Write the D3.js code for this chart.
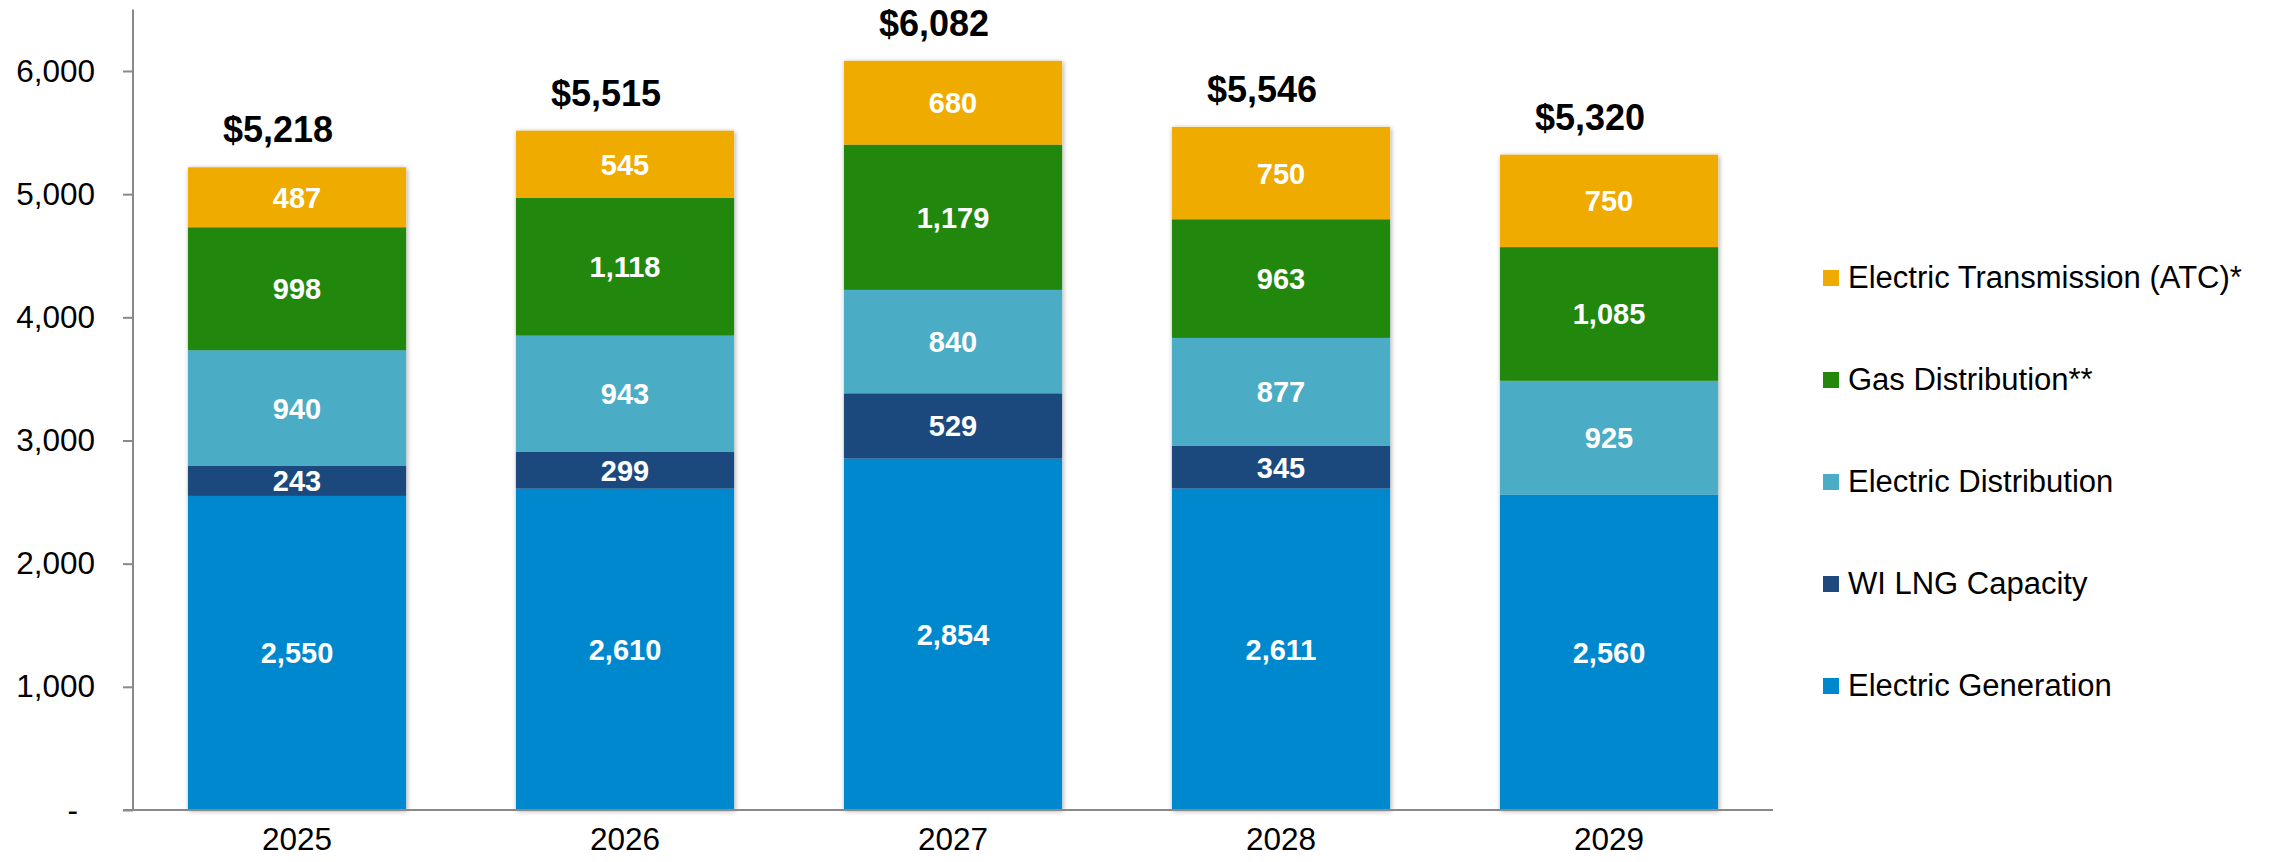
<!DOCTYPE html>
<html>
<head>
<meta charset="utf-8">
<script src="https://cdn.jsdelivr.net/npm/d3@7"></script>
<style>
  body { margin: 0; background: #fff; }
  svg text { font-family: "Liberation Sans", Arial, sans-serif; }
</style>
</head>
<body>
<div id="chart"></div>
<script>
// chart values
var years = ["2025", "2026", "2027", "2028", "2029"];
var electricGeneration = [2550, 2610, 2854, 2611, 2560];
var wiLngCapacity = [243, 299, 529, 345, 0];
var electricDistribution = [940, 943, 840, 877, 925];
var gasDistribution = [998, 1118, 1179, 963, 1085];
var electricTransmission = [487, 545, 680, 750, 750];
var seriesNames = ["Electric Generation", "WI LNG Capacity", "Electric Distribution", "Gas Distribution**", "Electric Transmission (ATC)*"];
var yTicks = [0, 1000, 2000, 3000, 4000, 5000, 6000];

var colors = ["#0088ce", "#1f497d", "#4bacc6", "#23870c", "#f0ab00"];
var seriesValues = [electricGeneration, wiLngCapacity, electricDistribution, gasDistribution, electricTransmission];

// build rows for the stack
var rows = years.map(function(y, i){
  var row = {year: y};
  seriesNames.forEach(function(name, j){ row[name] = seriesValues[j][i]; });
  return row;
});
var stacked = d3.stack().keys(seriesNames)(rows);

var width = 2285, height = 862;
var svg = d3.select("#chart").append("svg")
    .attr("width", width)
    .attr("height", height);

var defs = svg.append("defs");
var f = defs.append("filter").attr("id", "shadow")
    .attr("x", "-10%").attr("y", "-10%").attr("width", "120%").attr("height", "120%");
f.append("feDropShadow")
    .attr("dx", 1).attr("dy", 1)
    .attr("stdDeviation", 2.5)
    .attr("flood-color", "#000")
    .attr("flood-opacity", 0.35);

var x = d3.scaleBand()
    .domain(years)
    .range([133, 1773])
    .paddingInner(0.335)
    .paddingOuter(0.1675);

var y = d3.scaleLinear()
    .domain([0, 6500])
    .range([810, 9.4]);

// bars, one group per year so the shadow sits on the outside of the column
var cols = svg.selectAll("g.col")
  .data(years)
  .enter().append("g")
    .attr("class", "col")
    .attr("filter", "url(#shadow)");

cols.each(function(yr, i){
  d3.select(this).selectAll("rect")
    .data(stacked.filter(function(s){ return s[i][1] > s[i][0]; }))
    .enter().append("rect")
      .attr("x", x(yr))
      .attr("width", x.bandwidth())
      .attr("y", function(s){ return y(s[i][1]); })
      .attr("height", function(s){ return y(s[i][0]) - y(s[i][1]); })
      .attr("fill", function(s){ return colors[s.index]; });
});

// segment labels
var fmt = d3.format(",");
stacked.forEach(function(s){
  svg.append("g").selectAll("text")
    .data(s.filter(function(d){ return d[1] - d[0] > 0; }))
    .enter().append("text")
      .attr("x", function(d){ return x(d.data.year) + x.bandwidth() / 2; })
      .attr("y", function(d){ return (y(d[0]) + y(d[1])) / 2; })
      .attr("dy", "0.36em")
      .attr("text-anchor", "middle")
      .attr("fill", "#fff")
      .attr("font-weight", "bold")
      .attr("font-size", "29px")
      .text(function(d){ return fmt(d[1] - d[0]); });
});

// totals above bars
var topSeries = stacked[stacked.length - 1];
svg.append("g").selectAll("text")
  .data(topSeries)
  .enter().append("text")
    .attr("x", function(d){ return x(d.data.year) + x.bandwidth() / 2 - 19; })
    .attr("y", function(d){ return y(d[1]) - 25; })
    .attr("text-anchor", "middle")
    .attr("font-weight", "bold")
    .attr("font-size", "36px")
    .attr("fill", "#000")
    .text(function(d){ return "$" + fmt(d[1]); });

// y axis
var yAxis = d3.axisLeft(y)
    .tickValues(yTicks)
    .tickSize(10)
    .tickPadding(28)
    .tickFormat(function(d){ return d === 0 ? "-" : fmt(d); });

var gy = svg.append("g")
    .attr("transform", "translate(133,0)")
    .call(yAxis);
gy.select(".domain").remove();
gy.selectAll(".tick line").attr("stroke", "#898989").attr("stroke-width", 2);
gy.selectAll(".tick text")
    .attr("font-size", "31.5px")
    .attr("fill", "#000")
    .attr("font-family", null)
    .attr("x", function(d){ return d === 0 ? -55 : -38; });

svg.append("line")
    .attr("x1", 133).attr("x2", 133)
    .attr("y1", y(6500)).attr("y2", y(0))
    .attr("stroke", "#898989").attr("stroke-width", 2);

// x axis
var gx = svg.append("g")
    .attr("transform", "translate(0,810)")
    .call(d3.axisBottom(x).tickSize(0).tickPadding(18));
gx.select(".domain").remove();
gx.selectAll(".tick text")
    .attr("font-size", "31.5px")
    .attr("fill", "#000")
    .attr("font-family", null);

svg.append("line")
    .attr("x1", 123).attr("x2", 1773)
    .attr("y1", y(0)).attr("y2", y(0))
    .attr("stroke", "#898989").attr("stroke-width", 2);

// legend (top to bottom is reverse of stack order)
var legendOrder = seriesNames.map(function(n, i){ return i; }).reverse();
var legend = svg.append("g").selectAll("g")
  .data(legendOrder)
  .enter().append("g")
    .attr("transform", function(d, i){ return "translate(1823," + (288 + i * 102) + ")"; });

legend.append("rect")
    .attr("x", 0).attr("y", -18)
    .attr("width", 16).attr("height", 16)
    .attr("fill", function(d){ return colors[d]; });

legend.append("text")
    .attr("x", 25)
    .attr("y", 0)
    .attr("font-size", "31px")
    .attr("fill", "#000")
    .text(function(d){ return seriesNames[d]; });
</script>
</body>
</html>
